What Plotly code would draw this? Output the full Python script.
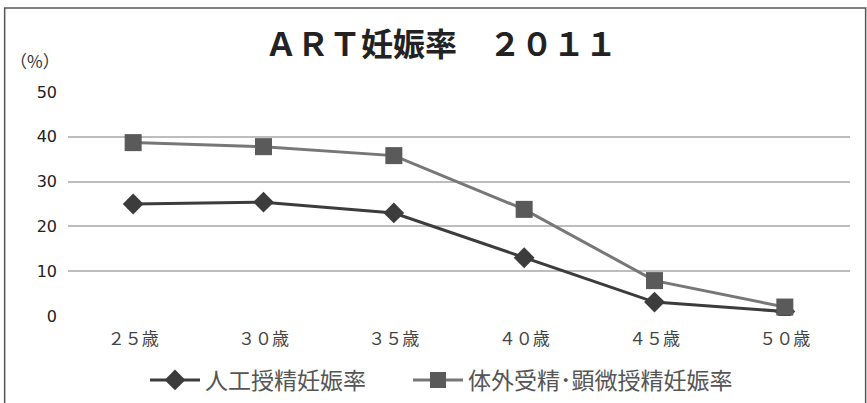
import plotly.graph_objects as go

# Pregnancy rate by age group (%), 2011
ages = ["２５歳", "３０歳", "３５歳", "４０歳", "４５歳", "５０歳"]
artificial_insemination = [25, 25.4, 23, 13, 3.1, 1]
ivf_icsi = [38.7, 37.8, 35.8, 23.8, 7.9, 2]

font_jp = "Noto Sans CJK JP"

fig = go.Figure()
fig.add_trace(go.Scatter(
    x=ages, y=artificial_insemination, name="人工授精妊娠率",
    mode="lines+markers",
    line=dict(color="#3c3c3c", width=3),
    marker=dict(symbol="diamond", size=16, color="#3c3c3c"),
    legend="legend",
))
fig.add_trace(go.Scatter(
    x=ages, y=ivf_icsi, name="体外受精･顕微授精妊娠率",
    mode="lines+markers",
    line=dict(color="#777777", width=3),
    marker=dict(symbol="square", size=17, color="#5a5a5a"),
    legend="legend2",
))

legend_style = dict(
    orientation="h", xanchor="left", xref="container",
    y=1 - 380 / 403, yanchor="middle", yref="container",
    font=dict(size=23, color="#555555", family=font_jp),
    itemwidth=50, bgcolor="rgba(0,0,0,0)",
)

fig.update_layout(
    width=867, height=403,
    margin=dict(l=68, r=17, t=92, b=87, autoexpand=False),
    paper_bgcolor="white", plot_bgcolor="white",
    font=dict(family=font_jp, color="#333333"),
    title=dict(
        text="<b>ＡＲＴ妊娠率　２０１１</b>",
        x=441 / 867, xanchor="center", xref="container",
        y=1 - 45 / 403, yanchor="middle", yref="container",
        font=dict(size=32, color="#222222", family=font_jp),
    ),
    xaxis=dict(
        type="category", range=[-0.5, 5.5], automargin=False,
        showgrid=False, zeroline=False, showline=False, ticks="",
        tickfont=dict(size=17, color="#444444"),
        ticklabelstandoff=11,
    ),
    yaxis=dict(
        range=[0, 50], dtick=10, automargin=False,
        showgrid=True, gridcolor="#bdbdbd", gridwidth=1.5,
        zeroline=False, showline=False, ticks="",
        tickfont=dict(size=16, color="#222222", family="DejaVu Sans"),
        ticklabelstandoff=10,
    ),
    legend=dict(x=145 / 867, **legend_style),
    legend2=dict(x=408 / 867, **legend_style),
    showlegend=True,
    shapes=[dict(
        type="rect", xref="paper", yref="paper",
        x0=-0.081, x1=1.02, y0=-0.45, y1=1.375,
        line=dict(color="#555555", width=1.5), fillcolor="rgba(0,0,0,0)",
        layer="below",
    )],
    annotations=[dict(
        text="（%）", xref="paper", yref="paper",
        x=(35 - 68) / 782, y=(316 - 60) / 224, xanchor="center", yanchor="middle",
        showarrow=False, font=dict(size=17, color="#333333", family=font_jp),
    )],
)

fig.write_html("out.html")
